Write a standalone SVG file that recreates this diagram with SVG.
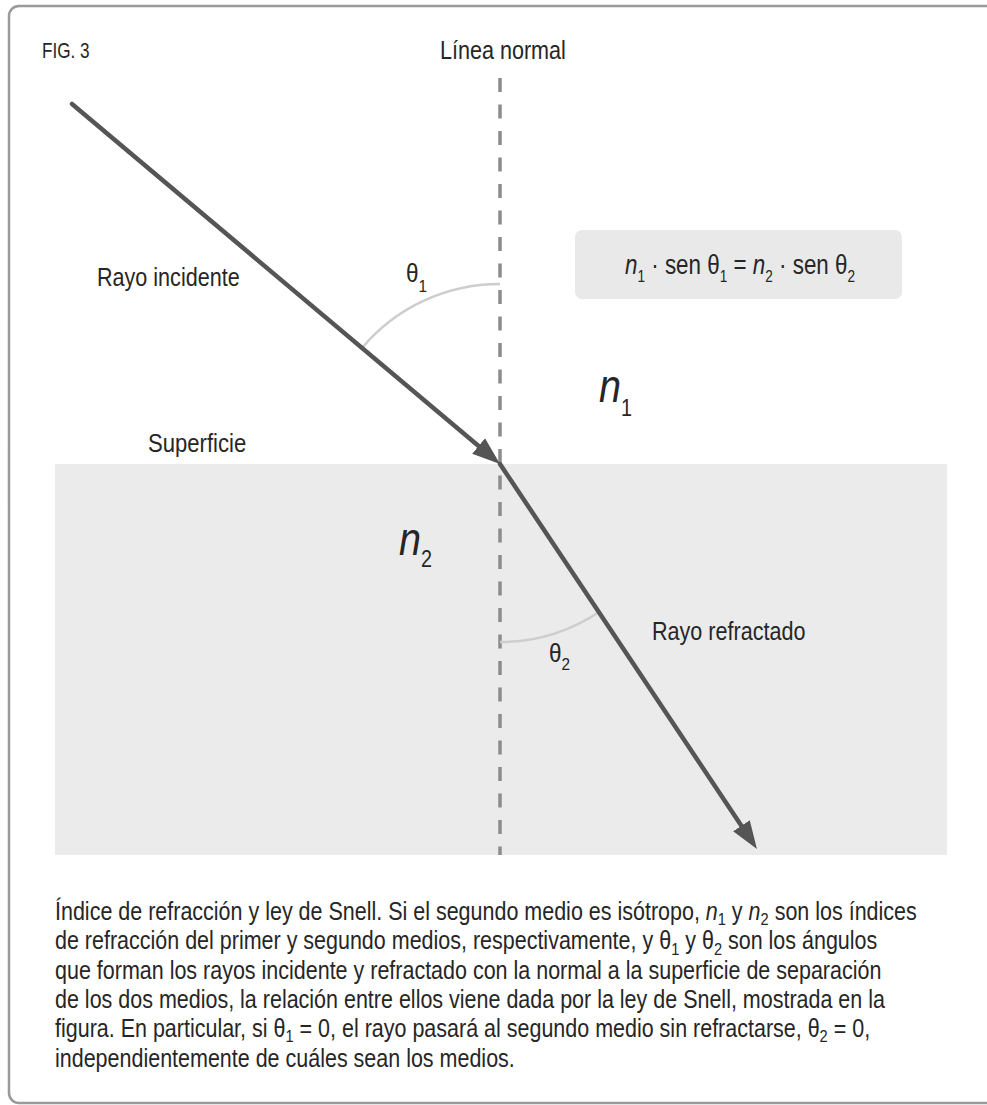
<svg xmlns="http://www.w3.org/2000/svg" width="987" height="1105" viewBox="0 0 987 1105">
<style>
text{font-family:"Liberation Sans","Arial",sans-serif;fill:#262626}
.lbl{font-size:26px}
.cap{font-size:25px}
.sub{font-size:17px}
.it{font-style:italic}
.ray{stroke:#555;stroke-width:4.5;fill:none;stroke-linecap:round}
.arc{stroke:#cdcdcd;stroke-width:2.5;fill:none}
</style>
<defs>
<marker id="ah" markerUnits="userSpaceOnUse" markerWidth="30" markerHeight="22" refX="14" refY="11" orient="auto" viewBox="0 0 30 22">
<path d="M0,1 L28,11 L0,21 z" fill="#555"/>
</marker>
</defs>
<rect x="0" y="0" width="987" height="1105" fill="#ffffff"/>
<g id="frame">
<rect x="9" y="6" width="1000" height="1097" rx="10" fill="none" stroke="#9a9a9a" stroke-width="2.5"/>
</g>
<g id="medium2">
<rect x="55" y="464" width="892" height="391" fill="#ebebeb"/>
</g>
<g id="formula">
<rect x="575" y="230" width="327" height="69" rx="7" fill="#e9e9e9"/>
<text transform="translate(625,274) scale(0.8,1)" x="0" y="0" font-size="28"><tspan class="it">n</tspan><tspan dy="8" font-size="17">1</tspan><tspan dy="-8"> · sen θ</tspan><tspan dy="8" font-size="17">1</tspan><tspan dy="-8"> = </tspan><tspan class="it">n</tspan><tspan dy="8" font-size="17">2</tspan><tspan dy="-8"> · sen θ</tspan><tspan dy="8" font-size="17">2</tspan></text>
</g>
<g id="connectors">
<line id="normal" x1="500" y1="78" x2="500" y2="855" stroke="#8c8c8c" stroke-width="3.5" stroke-dasharray="14 12.5"/>
<path id="arc1" class="arc" d="M500,284 A180,180 0 0 0 362,348"/>
<path id="arc2" class="arc" d="M500,642 A178,178 0 0 0 599,612"/>
<path id="incident" class="ray" d="M72,104 L489.3,455" marker-end="url(#ah)"/>
<path id="refracted" class="ray" d="M500,464 L749.2,837.4" marker-end="url(#ah)"/>
</g>
<g id="fig-label"><text transform="translate(42,58) scale(0.78,1)" x="0" y="0" font-size="22">FIG. 3</text></g>
<g id="normal-label"><text class="lbl" transform="translate(440,59) scale(0.83,1)" x="0" y="0">Línea normal</text></g>
<g id="incident-label"><text class="lbl" transform="translate(97,286) scale(0.83,1)" x="0" y="0">Rayo incidente</text></g>
<g id="surface-label"><text class="lbl" transform="translate(148,452) scale(0.85,1)" x="0" y="0">Superficie</text></g>
<g id="refracted-label"><text class="lbl" transform="translate(652,640) scale(0.83,1)" x="0" y="0">Rayo refractado</text></g>
<g id="theta1"><text transform="translate(406,282) scale(0.9,1)" x="0" y="0" font-size="25">θ<tspan class="sub" dy="10">1</tspan></text></g>
<g id="theta2"><text transform="translate(549,662) scale(0.9,1)" x="0" y="0" font-size="25">θ<tspan class="sub" dy="8">2</tspan></text></g>
<g id="n1"><text class="it" transform="translate(599,402) scale(0.86,1)" x="0" y="0" font-size="46">n<tspan dy="14" font-size="23" font-style="normal">1</tspan></text></g>
<g id="n2"><text class="it" transform="translate(399,555) scale(0.86,1)" x="0" y="0" font-size="46">n<tspan dy="12" font-size="23" font-style="normal">2</tspan></text></g>
<g id="caption">
<text class="cap" transform="translate(55,920) scale(0.86,1)" x="0" y="0">Índice de refracción y ley de Snell. Si el segundo medio es isótropo, <tspan class="it">n</tspan><tspan class="sub" dy="5">1</tspan><tspan dy="-5"> y </tspan><tspan class="it">n</tspan><tspan class="sub" dy="5">2</tspan><tspan dy="-5"> son los índices</tspan></text>
<text class="cap" transform="translate(55,949) scale(0.86,1)" x="0" y="0">de refracción del primer y segundo medios, respectivamente, y θ<tspan class="sub" dy="6">1</tspan><tspan dy="-6"> y θ</tspan><tspan class="sub" dy="6">2</tspan><tspan dy="-6"> son los ángulos</tspan></text>
<text class="cap" transform="translate(55,979) scale(0.86,1)" x="0" y="0">que forman los rayos incidente y refractado con la normal a la superficie de separación</text>
<text class="cap" transform="translate(55,1008) scale(0.86,1)" x="0" y="0">de los dos medios, la relación entre ellos viene dada por la ley de Snell, mostrada en la</text>
<text class="cap" transform="translate(55,1037) scale(0.86,1)" x="0" y="0">figura. En particular, si θ<tspan class="sub" dy="5">1</tspan><tspan dy="-5"> = 0, el rayo pasará al segundo medio sin refractarse, θ</tspan><tspan class="sub" dy="5">2</tspan><tspan dy="-5"> = 0,</tspan></text>
<text class="cap" transform="translate(55,1067) scale(0.86,1)" x="0" y="0">independientemente de cuáles sean los medios.</text>
</g>
</svg>
